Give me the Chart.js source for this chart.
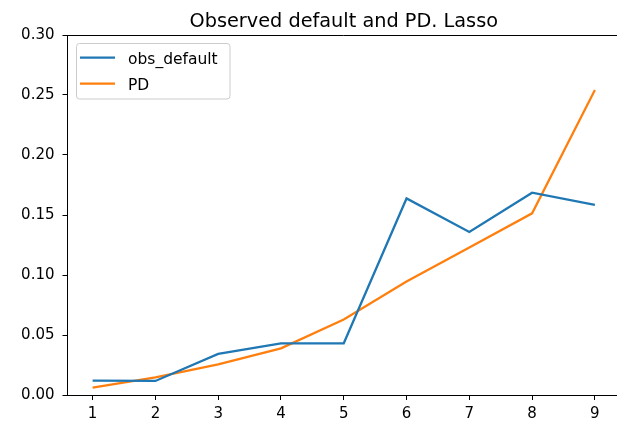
<!DOCTYPE html>
<html>
<head>
<meta charset="utf-8">
<title>Observed default and PD. Lasso</title>
<script src="https://cdn.jsdelivr.net/npm/chart.js@4/dist/chart.umd.min.js"></script>
<style>
  html, body { margin: 0; padding: 0; background: #fff; overflow: hidden; }
  #wrap { position: relative; width: 617px; height: 421px; overflow: hidden; }
  canvas { display: block; position: absolute; left: 0; top: 0; }
</style>
</head>
<body>
<div id="wrap"><canvas id="c" width="640" height="421" style="width:640px;height:421px"></canvas></div>
<script>
// Score buckets on the x axis
const buckets = [1, 2, 3, 4, 5, 6, 7, 8, 9];
// Observed default rate per bucket
const obsDefault = [0.0119, 0.0117, 0.0342, 0.0431, 0.0431, 0.1638, 0.1358, 0.1686, 0.1585];
// Predicted probability of default (Lasso) per bucket
const pdLasso = [0.0061, 0.0147, 0.0256, 0.0389, 0.0630, 0.0945, 0.1230, 0.1514, 0.2542];
// Y axis tick values
const yTicks = [0.00, 0.05, 0.10, 0.15, 0.20, 0.25, 0.30];
const chartTitle = 'Observed default and PD. Lasso';
const seriesNames = ['obs_default', 'PD'];

const FONT = 'DejaVu Sans';
const toPoints = (vals) => buckets.map((b, i) => ({ x: b, y: vals[i] }));

// Title, top spine and in-plot legend, drawn matplotlib style
const framePlugin = {
  id: 'frame',
  afterDraw(chart) {
    const { ctx, chartArea: a } = chart;
    ctx.save();
    // top spine
    ctx.strokeStyle = '#000';
    ctx.lineWidth = 1;
    ctx.beginPath();
    ctx.moveTo(a.left, a.top + 0.5);
    ctx.lineTo(a.right, a.top + 0.5);
    ctx.stroke();

    // title centred over the axes
    ctx.fillStyle = '#000';
    ctx.font = '19.3px "' + FONT + '"';
    ctx.textAlign = 'center';
    ctx.textBaseline = 'alphabetic';
    ctx.fillText(chartTitle, (a.left + a.right) / 2, 26.7);

    // legend box
    const bx = 76.5, by = 43.5, bw = 153.5, bh = 55.5, r = 3;
    ctx.beginPath();
    ctx.moveTo(bx + r, by);
    ctx.lineTo(bx + bw - r, by);
    ctx.quadraticCurveTo(bx + bw, by, bx + bw, by + r);
    ctx.lineTo(bx + bw, by + bh - r);
    ctx.quadraticCurveTo(bx + bw, by + bh, bx + bw - r, by + bh);
    ctx.lineTo(bx + r, by + bh);
    ctx.quadraticCurveTo(bx, by + bh, bx, by + bh - r);
    ctx.lineTo(bx, by + r);
    ctx.quadraticCurveTo(bx, by, bx + r, by);
    ctx.closePath();
    ctx.fillStyle = 'rgba(255,255,255,0.8)';
    ctx.fill();
    ctx.strokeStyle = '#cccccc';
    ctx.lineWidth = 1;
    ctx.stroke();

    ctx.font = '15.5px "' + FONT + '"';
    ctx.textAlign = 'left';
    ctx.textBaseline = 'alphabetic';
    const lineY = [57.5, 83.5];
    const textY = [63.5, 89.5];
    chart.data.datasets.forEach((ds, i) => {
      ctx.strokeStyle = ds.borderColor;
      ctx.lineWidth = ds.borderWidth;
      ctx.beginPath();
      ctx.moveTo(80, lineY[i]);
      ctx.lineTo(115, lineY[i]);
      ctx.stroke();
      ctx.fillStyle = '#000';
      ctx.fillText(ds.label, 128, textY[i]);
    });
    ctx.restore();
  }
};

new Chart(document.getElementById('c'), {
  type: 'line',
  data: {
    datasets: [
      {
        label: seriesNames[0],
        data: toPoints(obsDefault),
        borderColor: '#1f77b4',
        backgroundColor: '#1f77b4',
        borderWidth: 2.25,
        pointRadius: 0,
        tension: 0,
        fill: false
      },
      {
        label: seriesNames[1],
        data: toPoints(pdLasso),
        borderColor: '#ff7f0e',
        backgroundColor: '#ff7f0e',
        borderWidth: 2.25,
        pointRadius: 0,
        tension: 0,
        fill: false
      }
    ]
  },
  options: {
    responsive: false,
    animation: false,
    // the axes run slightly past the right edge of the visible area
    layout: { padding: { top: 35, right: 20, left: 0, bottom: 0 } },
    plugins: {
      legend: { display: false },
      title: { display: false },
      tooltip: { enabled: false }
    },
    scales: {
      x: {
        type: 'linear',
        min: 0.6,
        max: 9.4,
        afterBuildTicks: (s) => { s.ticks = buckets.map(v => ({ value: v })); },
        afterFit: (s) => { s.height = 26; },
        grid: { drawOnChartArea: false, drawTicks: true, tickLength: 5, color: '#000', lineWidth: 1 },
        border: { display: true, color: '#000', width: 1 },
        ticks: {
          padding: 5,
          color: '#000',
          font: { family: FONT, size: 15 },
          maxRotation: 0,
          autoSkip: false,
          callback: (v) => String(v)
        }
      },
      y: {
        type: 'linear',
        min: 0,
        max: 0.3,
        afterBuildTicks: (s) => { s.ticks = yTicks.map(v => ({ value: v })); },
        afterFit: (s) => { s.width = 67.5; },
        grid: { drawOnChartArea: false, drawTicks: true, tickLength: 5, color: '#000', lineWidth: 1 },
        border: { display: true, color: '#000', width: 1 },
        ticks: {
          padding: 8,
          color: '#000',
          font: { family: FONT, size: 15 },
          callback: (v) => Number(v).toFixed(2)
        }
      }
    }
  },
  plugins: [framePlugin]
});
</script>
</body>
</html>
